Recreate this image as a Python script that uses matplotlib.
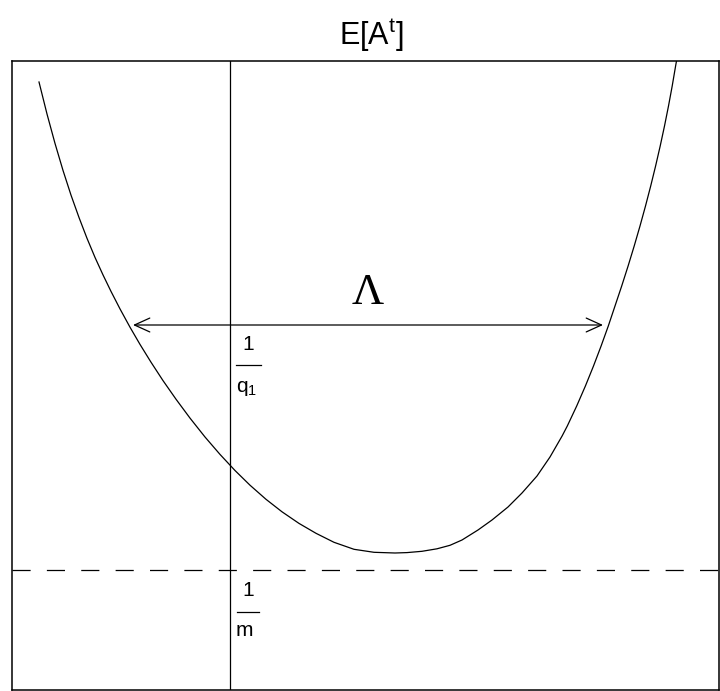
import matplotlib
matplotlib.use("Agg")
import matplotlib.pyplot as plt
import numpy as np

plt.rcParams["font.family"] = ["Liberation Sans", "DejaVu Sans"]
plt.rcParams["mathtext.fontset"] = "custom"
plt.rcParams["mathtext.rm"] = "Liberation Sans"
plt.rcParams["mathtext.it"] = "Liberation Sans:italic"

# curve (x = parameter, y = E[A^t]), arbitrary units
left_x = [27, 35, 43, 51, 59, 67, 75, 83, 91, 99, 108, 118, 128, 139, 151, 164,
          178, 193, 208, 223, 238, 254, 270, 287, 304, 322, 342, 362]
left_y = [608, 576, 546.6, 519.6, 494.9, 472.5, 451.7, 432.6, 415.1, 398.6, 381.1,
          362.8, 345.6, 327.8, 309.4, 290.8, 271.9, 253, 235.6, 219.5, 204.8, 190.7,
          178.2, 166.6, 156.7, 147.7, 140.7, 137.7]
bottom_x = [383]
bottom_y = [137]
right_x = [395, 410, 425, 438, 450, 466, 480, 496, 510, 525, 538, 550.1, 555.3,
           564.7, 573.4, 581.5, 589.1, 596.3, 603, 609.7, 616.1, 622.2, 628, 633.5,
           638.7, 643.6, 648.2, 652.5, 656.5, 660.2, 663.6, 664.5]
right_y = [137.4, 138.7, 141.2, 144.7, 150, 160, 170, 183, 197, 214, 233, 254, 264,
           284, 304, 324, 344, 364, 384, 404, 424, 444, 464, 484, 504, 524, 544,
           564, 584, 604, 624, 629]

x_zero = 218          # vertical reference line
level_q1 = 365        # 1/q1 level, where the Lambda arrow sits
level_m = 120         # 1/m level (dashed)
lambda_left, lambda_right = 121, 591

curve_x = np.array(left_x + bottom_x + right_x)
curve_y = np.array(left_y + bottom_y + right_y)

fig = plt.figure(figsize=(7.2, 6.91), dpi=100)
ax = fig.add_axes([12 / 720, 1 / 691, 707 / 720, 629 / 691])
ax.set_xlim(0, 707)
ax.set_ylim(0, 629)
ax.set_xticks([])
ax.set_yticks([])
for s in ax.spines.values():
    s.set_linewidth(1.1)

ax.plot(curve_x, curve_y, color="black", linewidth=0.9, solid_joinstyle="round")
ax.axvline(x_zero, color="black", linewidth=0.9)
ax.axhline(level_m, color="black", linewidth=0.9, dashes=(14.5, 13))

ax.annotate("", xy=(lambda_left, level_q1), xytext=(lambda_right, level_q1),
            arrowprops=dict(arrowstyle="<->,head_length=1.1,head_width=0.5",
                            color="black", linewidth=0.9, shrinkA=0, shrinkB=0))
ax.text((lambda_left + lambda_right) / 2, level_q1 + 21, "\u039b",
        family="Liberation Serif", fontsize=32, ha="center", va="baseline")

# fraction labels next to the vertical line
ax.text(x_zero + 18, level_q1 - 19, "1", fontsize=15, ha="center", va="center")
ax.plot([x_zero + 6, x_zero + 31], [level_q1 - 40, level_q1 - 40], color="black", linewidth=0.9)
ax.text(x_zero + 6, level_q1 - 67, r"q$_{\mathrm{1}}$", fontsize=15, ha="left", va="baseline")

ax.text(x_zero + 18, level_m - 20, "1", fontsize=15, ha="center", va="center")
ax.plot([x_zero + 7, x_zero + 29], [level_m - 42, level_m - 42], color="black", linewidth=0.9)
ax.text(x_zero + 6, level_m - 66, "m", fontsize=15, ha="left", va="baseline")

fig.text(371 / 720, 1 - 45 / 691, r"E[A$^{\mathrm{t}}$]", fontsize=22,
         ha="center", va="baseline")

fig.savefig("out.png", dpi=100)
plt.close(fig)
